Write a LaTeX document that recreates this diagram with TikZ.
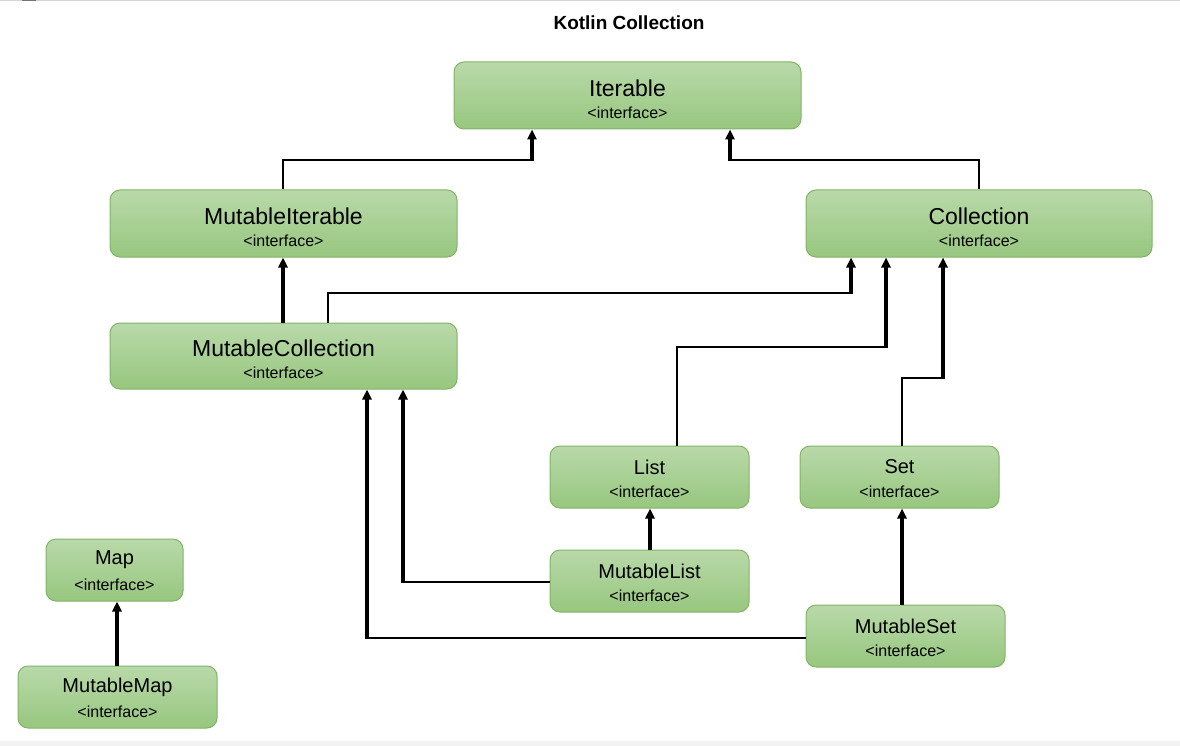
\documentclass[tikz,border=0pt]{standalone}
\usepackage{fontspec}
\setmainfont{Liberation Sans}
\usetikzlibrary{arrows.meta,calc}
\definecolor{gtop}{RGB}{185,217,169}
\definecolor{gbot}{RGB}{151,199,127}
\definecolor{gline}{RGB}{130,179,102}
\tikzset{
  box/.style={draw=gline, line width=1pt, rounded corners=10pt, top color=gtop, bottom color=gbot, inner sep=0pt},
  bigname/.style={font=\fontsize{23}{27}\selectfont, inner sep=0pt},
  smallname/.style={font=\fontsize{20}{24}\selectfont, inner sep=0pt},
  iface/.style={font=\fontsize{16}{19}\selectfont, inner sep=0pt},
  thinline/.style={line width=1.8pt, line join=miter},
  thickarrow/.style={line width=3.2pt, -{Triangle[length=10pt,width=9pt]}}
}
\newcommand\ibox[7]{%
  \node[box, minimum width={#4-#2}, minimum height={#5-#3}] (#1) at ({(#2+#4)/2},{(#3+#5)/2}) {};
  \node[#7] at ($(#1.center)+(0,#6)$) {\csname ibname#1\endcsname};
  \node[iface] at ($(#1.center)+(0,{#6+24.5})$) {<interface>};
}
\def\ibnameit{Iterable}
\def\ibnamemi{MutableIterable}
\def\ibnamecol{Collection}
\def\ibnamemc{MutableCollection}
\def\ibnamelist{List}
\def\ibnameset{Set}
\def\ibnameml{MutableList}
\def\ibnamems{MutableSet}
\def\ibnamemap{Map}
\def\ibnamemm{MutableMap}
\begin{document}
\begin{tikzpicture}[x=1pt,y=-1pt]
\useasboundingbox (0,0) rectangle (1180,746);
\fill[white] (0,0) rectangle (1180,746);
\fill[black!17] (0,0) rectangle (1180,1.5);
\fill[black!55] (22,0) rectangle (36,1.5);
\fill[black!5] (0,741) rectangle (1180,746);

\node[font=\fontsize{19}{23}\selectfont\bfseries] (title) at (629,23) {Kotlin Collection};

\ibox{it}{454}{62}{801}{129}{-7.5}{bigname}
\ibox{mi}{110}{190}{457}{257}{-7.5}{bigname}
\ibox{col}{806}{190}{1152}{257}{-7.5}{bigname}
\ibox{mc}{110}{323}{457}{389}{-7.5}{bigname}
\ibox{list}{550}{446}{749}{508}{-10}{smallname}
\ibox{set}{800}{446}{999}{508}{-10}{smallname}
\ibox{ml}{550}{550}{749}{612}{-10}{smallname}
\ibox{ms}{806}{605}{1005}{667}{-10}{smallname}
\ibox{map}{46}{539}{183}{601}{-10}{smallname}
\ibox{mm}{18}{666}{217}{728}{-10}{smallname}

% MutableIterable -> Iterable
\draw[thinline] (mi.north -| 283,0) |- (532,160);
\draw[thickarrow] (532,161) -- (it.south -| 532,0);
% Collection -> Iterable
\draw[thinline] (col.north -| 979,0) |- (730,160);
\draw[thickarrow] (730,161) -- (it.south -| 730,0);
% MutableCollection -> MutableIterable
\draw[thickarrow] (mc.north -| 283,0) -- (mi.south -| 283,0);
% MutableCollection -> Collection
\draw[thinline] (mc.north -| 328,0) |- (851,293);
\draw[thickarrow] (851,294) -- (col.south -| 851,0);
% List -> Collection
\draw[thinline] (list.north -| 677,0) |- (886,347);
\draw[thickarrow] (886,348) -- (col.south -| 886,0);
% Set -> Collection
\draw[thinline] (set.north -| 902,0) |- (943,378);
\draw[thickarrow] (943,379) -- (col.south -| 943,0);
% MutableList -> List
\draw[thickarrow] (ml.north -| 650,0) -- (list.south -| 650,0);
% MutableList -> MutableCollection
\draw[thinline] (ml.west |- 0,582) -- (403,582);
\draw[thickarrow] (403,583) -- (mc.south -| 403,0);
% MutableSet -> Set
\draw[thickarrow] (ms.north -| 902,0) -- (set.south -| 902,0);
% MutableSet -> MutableCollection
\draw[thinline] (ms.west |- 0,638) -- (367,638);
\draw[thickarrow] (367,639) -- (mc.south -| 367,0);
% MutableMap -> Map
\draw[thickarrow] (mm.north -| 117,0) -- (map.south -| 117,0);
\end{tikzpicture}
\end{document}
